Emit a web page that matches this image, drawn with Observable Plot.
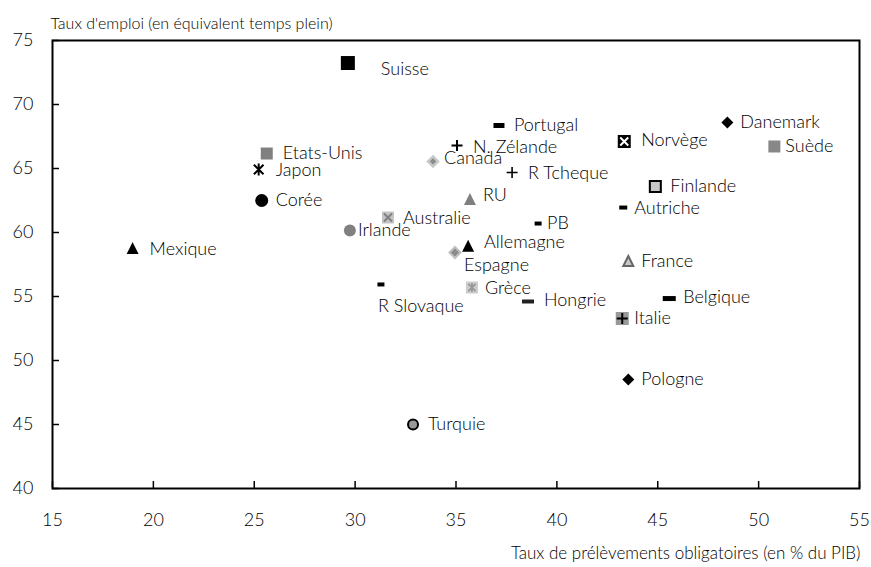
<!DOCTYPE html>
<html>
<head>
<meta charset="utf-8">
<script src="https://cdn.jsdelivr.net/npm/d3@7"></script>
<script src="https://cdn.jsdelivr.net/npm/@observablehq/plot@0.6"></script>
<style>
  html, body { margin: 0; padding: 0; background: #fff; }
  #chart svg { display: block; }
</style>
</head>
<body>
<div id="chart"></div>
<script>
// ---- Data ----
const countries = ["Suisse","Portugal","N. Zélande","Etats-Unis","Japon","Canada","R Tcheque","Corée","RU","Australie","Irlande","Mexique","Allemagne","Espagne","R Slovaque","Grèce","Hongrie","France","Belgique","Italie","Pologne","Turquie","Danemark","Norvège","Suède","Finlande","Autriche","PB"];
const taxRate = [29.64,37.13,35.05,25.62,25.22,33.86,37.78,25.37,35.69,31.63,29.74,18.97,35.60,34.95,31.28,35.79,38.57,43.54,45.57,43.24,43.54,32.87,48.45,43.34,50.78,44.88,43.29,39.07];
const employmentRate = [73.24,68.36,66.80,66.17,64.92,65.55,64.69,62.50,62.58,61.17,60.16,58.75,58.91,58.44,55.94,55.70,54.61,57.73,54.84,53.28,48.52,45.00,68.59,67.11,66.72,63.59,61.95,60.70];
const xTicks = [15,20,25,30,35,40,45,50,55];
const yTicks = [40,45,50,55,60,65,70,75];
const yTitle = "Taux d'emploi (en équivalent temps plein)";
const xTitle = "Taux de prélèvements obligatoires (en % du PIB)";

const rows = countries.map((c, i) => ({country: c, tax: taxRate[i], emp: employmentRate[i]}));

// ---- Marker shapes ----
const sym = {
  sq: s => ({draw(c){ c.rect(-s/2, -s/2, s, s); }}),
  dash: (w, h) => ({draw(c){ c.rect(-w/2, -h/2, w, h); }}),
  circle: r => ({draw(c){ c.moveTo(r, 0); c.arc(0, 0, r, 0, 2*Math.PI); }}),
  tri: s => ({draw(c){ c.moveTo(0, -s*0.55); c.lineTo(s/2, s*0.45); c.lineTo(-s/2, s*0.45); c.closePath(); }}),
  diamond: s => ({draw(c){ c.moveTo(0, -s/2); c.lineTo(s/2, 0); c.lineTo(0, s/2); c.lineTo(-s/2, 0); c.closePath(); }}),
  plus: s => ({draw(c){ c.moveTo(-s/2, 0); c.lineTo(s/2, 0); c.moveTo(0, -s/2); c.lineTo(0, s/2); }}),
  times: s => ({draw(c){ const a = s/2; c.moveTo(-a, -a); c.lineTo(a, a); c.moveTo(a, -a); c.lineTo(-a, a); }}),
  asterisk: s => ({draw(c){ const a = s/2, b = s*0.4; c.moveTo(-b, -b); c.lineTo(b, b); c.moveTo(b, -b); c.lineTo(-b, b); c.moveTo(0, -a); c.lineTo(0, a); }})
};
const F = (symbol, fill) => ({symbol, fill, stroke: "none", strokeWidth: 0});
const L = (symbol, stroke, strokeWidth, fill = "none") => ({symbol, fill, stroke, strokeWidth});

const markerStyle = {
  "Suisse":     [F(sym.sq(14), "#000")],
  "Portugal":   [F(sym.dash(11, 5), "#000")],
  "N. Zélande": [L(sym.plus(11), "#000", 2)],
  "Etats-Unis": [F(sym.sq(12), "#808080")],
  "Japon":      [L(sym.asterisk(12), "#000", 2)],
  "Canada":     [L(sym.diamond(10), "#c8c8c8", 2.5, "#8c8c8c")],
  "R Tcheque":  [L(sym.plus(11), "#000", 1.6)],
  "Corée":      [F(sym.circle(6.5), "#000")],
  "RU":         [F(sym.tri(12), "#808080")],
  "Australie":  [F(sym.sq(12), "#c4c4c4"), L(sym.times(8), "#808080", 2)],
  "Irlande":    [F(sym.circle(6), "#808080")],
  "Mexique":    [F(sym.tri(12), "#000")],
  "Allemagne":  [F(sym.tri(12), "#000")],
  "Espagne":    [L(sym.diamond(11), "#c0c0c0", 2, "#8c8c8c")],
  "R Slovaque": [F(sym.dash(7, 4), "#000")],
  "Grèce":      [F(sym.sq(12), "#cccccc"), L(sym.asterisk(9), "#999", 1.8)],
  "Hongrie":    [F(sym.dash(12, 4), "#222")],
  "France":     [L(sym.tri(10), "#666", 2, "#c8c8c8")],
  "Belgique":   [F(sym.dash(13, 5), "#000")],
  "Italie":     [F(sym.sq(13), "#999"), L(sym.plus(11), "#000", 2)],
  "Pologne":    [F(sym.diamond(12), "#000")],
  "Turquie":    [L(sym.circle(5), "#000", 2, "#999")],
  "Danemark":   [F(sym.diamond(12), "#000")],
  "Norvège":    [F(sym.sq(13), "#000"), L(sym.times(8), "#fff", 2)],
  "Suède":      [F(sym.sq(12), "#888")],
  "Finlande":   [L(sym.sq(11), "#000", 2, "#c8c8c8")],
  "Autriche":   [F(sym.dash(8, 4), "#000")],
  "PB":         [F(sym.dash(7, 4), "#000")]
};

// label offsets in pixels relative to the marker
const labelOffset = {
  "Suisse": [33, 6], "Portugal": [15, 0], "N. Zélande": [16, 2], "Etats-Unis": [16, 0],
  "Japon": [17, 1], "Canada": [11, -3], "R Tcheque": [16, 1], "Corée": [14, 0],
  "RU": [13, -4], "Australie": [15, 1], "Irlande": [8, 0], "Mexique": [17, 1],
  "Allemagne": [16, -4], "Espagne": [9, 13], "R Slovaque": [-3, 22], "Grèce": [13, 1],
  "Hongrie": [16, -1], "France": [13, 0], "Belgique": [14, -1], "Italie": [12, 0],
  "Pologne": [13, 0], "Turquie": [15, 0], "Danemark": [13, 0], "Norvège": [17, -1],
  "Suède": [11, 0], "Finlande": [15, 0], "Autriche": [11, 1], "PB": [9, 0]
};

const marks = [];
// axes: ticks (inside) and labels
marks.push(Plot.axisX(xTicks, {label: null, tickSize: -7, tickFormat: () => "", stroke: "#000", strokeWidth: 1.5}));
marks.push(Plot.axisY(yTicks, {label: null, tickSize: -7, tickFormat: () => "", stroke: "#000", strokeWidth: 1.5}));
marks.push(Plot.axisX(xTicks, {label: null, tickSize: 0, tickPadding: 25, fontSize: 18, fill: "#000", tickFormat: d => String(d)}));
marks.push(Plot.axisY(yTicks, {label: null, tickSize: 0, tickPadding: 19, fontSize: 18, fill: "#000", tickFormat: d => String(d)}));
marks.push(Plot.frame({stroke: "#000", strokeWidth: 2}));

rows.forEach(r => {
  for (const layer of markerStyle[r.country]) {
    marks.push(Plot.dot([r], {x: "tax", y: "emp", symbol: layer.symbol, fill: layer.fill, stroke: layer.stroke, strokeWidth: layer.strokeWidth}));
  }
  const [dx, dy] = labelOffset[r.country];
  marks.push(Plot.text([r], {x: "tax", y: "emp", text: "country", dx, dy, textAnchor: "start", lineAnchor: "middle", fontSize: 18, fill: "#000", style: "letter-spacing: 1.1px"}));
});

marks.push(Plot.text([yTitle], {frameAnchor: "top-left", text: d => d, textAnchor: "start", lineAnchor: "bottom", dx: -2, dy: -12, fontSize: 16, fill: "#000", style: "letter-spacing: 0.6px"}));
marks.push(Plot.text([xTitle], {frameAnchor: "bottom-right", text: d => d, textAnchor: "end", lineAnchor: "bottom", dx: 1, dy: 70, fontSize: 17, fill: "#000", style: "letter-spacing: 0.6px"}));

const chart = Plot.plot({
  width: 871,
  height: 567,
  marginLeft: 52,
  marginRight: 12,
  marginTop: 40,
  marginBottom: 79,
  style: {fontFamily: "Lato, 'Open Sans', sans-serif", fontWeight: 300, background: "#fff", overflow: "visible"},
  x: {domain: [15, 55], axis: null},
  y: {domain: [40, 75], axis: null},
  marks
});
document.getElementById("chart").appendChild(chart);
</script>
</body>
</html>
